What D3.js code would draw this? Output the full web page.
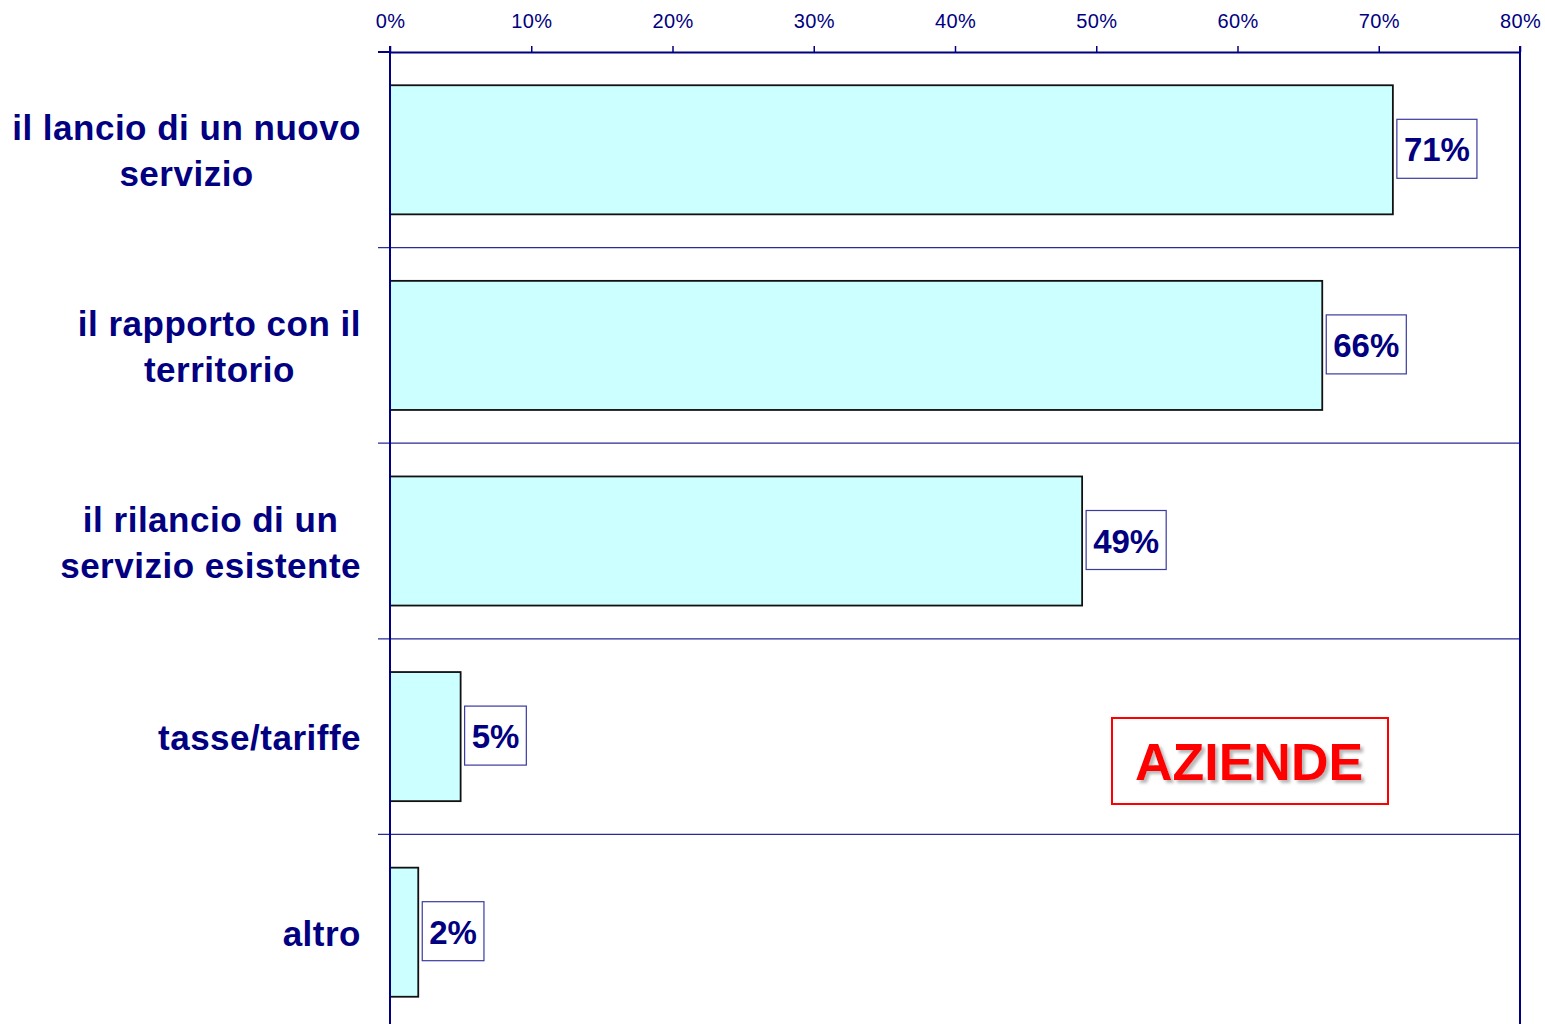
<!DOCTYPE html>
<html><head><meta charset="utf-8">
<script src="https://cdn.jsdelivr.net/npm/d3@7"></script>
<style>html,body{margin:0;padding:0;background:#fff;}svg{display:block;}</style>
</head><body>
<svg id="chart" width="1545" height="1024"></svg>
<script>
const categories = [
  ["il lancio di un nuovo", "servizio"],
  ["il rapporto con il", "territorio"],
  ["il rilancio di un", "servizio esistente"],
  ["tasse/tariffe"],
  ["altro"]
];
const values = [71, 66, 49, 5, 2];
const tickValues = [0, 10, 20, 30, 40, 50, 60, 70, 80];
const badge = "AZIENDE";

const navy = "#000080";
const svg = d3.select("#chart");
const x = d3.scaleLinear().domain([0, 80]).range([390, 1520]);
const y = d3.scaleBand().domain(d3.range(categories.length)).range([52, 1030])
  .paddingInner(0.34).paddingOuter(0.17);
const step = y.step();

// gridlines at band boundaries
const gy = d3.range(1, categories.length + 1).map(i => 52 + i * step);
svg.append("g").selectAll("line").data(gy).join("line")
  .attr("x1", 378).attr("x2", 1520).attr("y1", d => d).attr("y2", d => d)
  .attr("stroke", "#2a2a98").attr("stroke-width", 1.2);

// bars
svg.append("g").selectAll("rect").data(values).join("rect")
  .attr("x", x(0)).attr("y", (d, i) => y(i))
  .attr("width", d => x(d) - x(0)).attr("height", y.bandwidth())
  .attr("fill", "#CCFFFF").attr("stroke", "#111").attr("stroke-width", 1.8);

// top axis
const axis = d3.axisTop(x).tickValues(tickValues).tickFormat(d => d + "%").tickSize(6).tickSizeOuter(0);
const ag = svg.append("g").attr("transform", "translate(0,52)").call(axis);
ag.select(".domain").attr("stroke", navy).attr("stroke-width", 2);
ag.selectAll(".tick line").attr("stroke", navy).attr("stroke-width", 1.5);
ag.selectAll(".tick text").attr("fill", navy).attr("font-family", "Liberation Sans, Arial, sans-serif")
  .attr("font-size", 20).attr("letter-spacing", 0.3).attr("dy", 0).attr("y", -24);
// extend top line left
svg.append("line").attr("x1", 378).attr("x2", 390).attr("y1", 52).attr("y2", 52).attr("stroke", navy).attr("stroke-width", 2);
// left axis and right border
svg.append("line").attr("x1", x(0)).attr("x2", x(0)).attr("y1", 46).attr("y2", 1030).attr("stroke", navy).attr("stroke-width", 2);
svg.append("line").attr("x1", x(80)).attr("x2", x(80)).attr("y1", 46).attr("y2", 1030).attr("stroke", navy).attr("stroke-width", 2);

// value labels
const vg = svg.append("g").selectAll("g").data(values).join("g");
vg.each(function(d, i) {
  const g = d3.select(this);
  const cy = y(i) + y.bandwidth() / 2;
  const t = g.append("text").text(d + "%")
    .attr("font-family", "Liberation Sans, Arial, sans-serif").attr("font-weight", "bold")
    .attr("font-size", 33).attr("fill", navy).attr("dominant-baseline", "central");
  const w = t.node().getComputedTextLength();
  const bx = x(d) + 4, bw = w + 14, bh = 59;
  g.insert("rect", "text").attr("x", bx).attr("y", cy - bh / 2 - 1).attr("width", bw).attr("height", bh)
    .attr("fill", "#fff").attr("stroke", "#3a3aa0").attr("stroke-width", 1.2);
  t.attr("x", bx + 7).attr("y", cy);
});

// category labels
svg.append("g").selectAll("g").data(categories).join("g").each(function(lines, i) {
  const g = d3.select(this);
  const cy = y(i) + y.bandwidth() / 2;
  const lh = 46;
  const ts = lines.map((s, j) => g.append("text").text(s)
    .attr("font-family", "Liberation Sans, Arial, sans-serif").attr("font-weight", "bold")
    .attr("font-size", 35).attr("letter-spacing", 0.5).attr("fill", navy)
    .attr("text-anchor", "middle").attr("dominant-baseline", "central")
    .attr("y", cy + (j - (lines.length - 1) / 2) * lh + 1));
  const maxW = d3.max(ts, t => t.node().getComputedTextLength());
  ts.forEach(t => t.attr("x", 361 - maxW / 2));
});

// badge
const bgp = svg.append("g");
bgp.append("rect").attr("x", 1112).attr("y", 718).attr("width", 276).attr("height", 86)
  .attr("fill", "#fff").attr("stroke", "#ff0000").attr("stroke-width", 2);
const defs = svg.append("defs");
const f = defs.append("filter").attr("id", "sh").attr("x", "-10%").attr("y", "-10%").attr("width", "130%").attr("height", "140%");
f.append("feDropShadow").attr("dx", 3).attr("dy", 3).attr("stdDeviation", 1.5).attr("flood-color", "#888").attr("flood-opacity", 0.6);
bgp.append("text").text(badge).attr("x", 1249).attr("y", 762)
  .attr("font-family", "Liberation Sans, Arial, sans-serif").attr("font-weight", "bold")
  .attr("font-size", 52).attr("fill", "#ff0000").attr("text-anchor", "middle")
  .attr("dominant-baseline", "central").attr("filter", "url(#sh)");
</script>
</body></html>
